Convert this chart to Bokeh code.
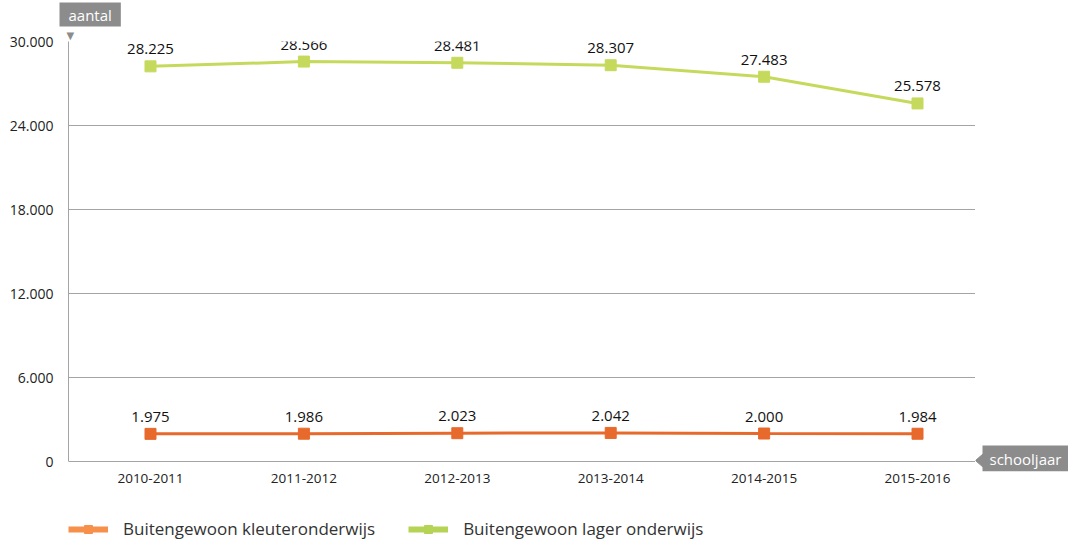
from bokeh.plotting import figure
from bokeh.models import (ColumnDataSource, LabelSet, Label, Legend, LegendItem,
                          FixedTicker, Range1d, Title)
from bokeh.layouts import row, column
from bokeh.core.properties import value
from bokeh.embed import file_html
from bokeh.resources import INLINE
import math

years = ["2010-2011", "2011-2012", "2012-2013", "2013-2014", "2014-2015", "2015-2016"]
kleuter = [1975, 1986, 2023, 2042, 2000, 1984]
lager = [28225, 28566, 28481, 28307, 27483, 25578]
y_ticks = [0, 6000, 12000, 18000, 24000, 30000]
y_tick_labels = ["0", "6.000", "12.000", "18.000", "24.000", "30.000"]

ORANGE = "#E8692C"
GREEN = "#C5DA5C"
ORANGE_LEG = "#F7904A"
GREEN_LEG = "#B5D456"
TAG = "#8C8C8C"
AXIS = "#A4A4A4"
FONT = "Open Sans"
X_START, X_END = -0.5345, 5.378
Y_START, Y_END = -712.6, 30000   # small margin below 0 so the axis tag fits

def fmt(v):
    return f"{v:,}".replace(",", ".")

xs = list(range(len(years)))

# ---------------- main chart ----------------
p = figure(width=975, height=500, output_backend="svg", toolbar_location=None,
           x_range=Range1d(X_START, X_END), y_range=Range1d(Y_START, Y_END),
           min_border_left=68, min_border_top=40, min_border_right=0, min_border_bottom=29)
p.outline_line_color = None
p.background_fill_color = "white"

src_k = ColumnDataSource(dict(x=xs, y=kleuter, t=[fmt(v) for v in kleuter]))
src_l = ColumnDataSource(dict(x=xs, y=lager, t=[fmt(v) for v in lager]))

p.line("x", "y", source=src_l, line_color=GREEN, line_width=3)
p.scatter("x", "y", source=src_l, marker="square", size=11, fill_color=GREEN, line_color=GREEN)
p.line("x", "y", source=src_k, line_color=ORANGE, line_width=3)
p.scatter("x", "y", source=src_k, marker="square", size=11, fill_color=ORANGE, line_color=ORANGE)

for src in (src_k, src_l):
    ls = LabelSet(x="x", y="y", text="t", source=src, y_offset=12, text_align="center",
                  text_baseline="bottom", text_font=value(FONT), text_font_size="15px",
                  text_color="#111111")
    p.add_layout(ls)

p.xaxis.ticker = FixedTicker(ticks=xs)
p.xaxis.major_label_overrides = {i: y for i, y in enumerate(years)}
p.yaxis.ticker = FixedTicker(ticks=y_ticks)
p.yaxis.major_label_overrides = {t: l for t, l in zip(y_ticks, y_tick_labels)}
p.yaxis.bounds = (0, Y_END)
for ax in (p.xaxis, p.yaxis):
    ax.major_tick_line_color = None
    ax.minor_tick_line_color = None
    ax.major_tick_out = 0
    ax.major_tick_in = 0
    ax.minor_tick_out = 0
    ax.major_label_text_font = FONT
    ax.major_label_text_color = "#222222"
p.yaxis.axis_line_color = AXIS
p.xaxis.axis_line_color = None        # the 0 grid line acts as the x axis line
p.yaxis.major_label_text_font_size = "14px"
p.yaxis.major_label_standoff = 15
p.xaxis.major_label_text_font_size = "13.5px"
p.xaxis.major_label_standoff = 2
p.xgrid.grid_line_color = None
p.ygrid.grid_line_color = AXIS
p.ygrid.grid_line_width = 1
p.ygrid.ticker = FixedTicker(ticks=y_ticks)

# "aantal" tag above the y axis (first added = closest to the frame)
t_tri = Title(text="▼", align="left", offset=-2, standoff=2,
              text_font="DejaVu Sans", text_font_size="10px", text_font_style="normal",
              text_color=TAG)
p.add_layout(t_tri, "above")
t_aantal = Title(text="aantal", align="left", offset=-9, standoff=0,
                 text_font=FONT, text_font_size="15px", text_font_style="normal",
                 text_color="white", background_fill_color=TAG, padding=(9, 2))
p.add_layout(t_aantal, "above")

# ---------------- right strip: "schooljaar" tag (units = pixels, 0 at the x axis) ----------------
pr = figure(width=93, height=500, output_backend="svg", toolbar_location=None,
            x_range=Range1d(0, 93), y_range=Range1d(-10, 421),
            x_axis_location=None, y_axis_location=None,
            min_border_left=0, min_border_right=0, min_border_top=0, min_border_bottom=0)
pr.outline_line_color = None
pr.grid.visible = False
pr.patch([0, 8, 8], [1, 8, -6], fill_color=TAG, line_color=TAG)
pr.add_layout(Label(x=7, y=3, text="schooljaar", text_font=FONT, text_font_size="15px",
                    text_color="white", text_align="left", text_baseline="middle",
                    background_fill_color=TAG, padding=(7, 3)))

# ---------------- bottom strip: legend ----------------
pl = figure(width=1068, height=46, output_backend="svg", toolbar_location=None,
            x_range=Range1d(0, 1), y_range=Range1d(0, 1),
            x_axis_location=None, y_axis_location=None,
            min_border_left=0, min_border_right=0, min_border_top=0, min_border_bottom=0)
pl.outline_line_color = None
pl.grid.visible = False
lk = pl.line([math.nan], [math.nan], line_color=ORANGE_LEG, line_width=6)
sk = pl.scatter([math.nan], [math.nan], marker="square", size=12, fill_color=ORANGE_LEG, line_color=ORANGE_LEG)
ll = pl.line([math.nan], [math.nan], line_color=GREEN_LEG, line_width=6)
sl = pl.scatter([math.nan], [math.nan], marker="square", size=12, fill_color=GREEN_LEG, line_color=GREEN_LEG)
legend = Legend(items=[LegendItem(label="Buitengewoon kleuteronderwijs", renderers=[lk, sk]),
                       LegendItem(label="Buitengewoon lager onderwijs", renderers=[ll, sl])],
                orientation="horizontal", location=(68, 6), padding=0, margin=0,
                glyph_width=40, glyph_height=20, label_height=20, spacing=33,
                label_standoff=15, border_line_color=None, background_fill_alpha=0,
                label_text_font=FONT, label_text_font_size="17px", label_text_color="#333333")
pl.add_layout(legend)

layout = column(row(p, pr, spacing=0), pl, spacing=0)
open("out.html", "w").write(file_html(layout, INLINE))
